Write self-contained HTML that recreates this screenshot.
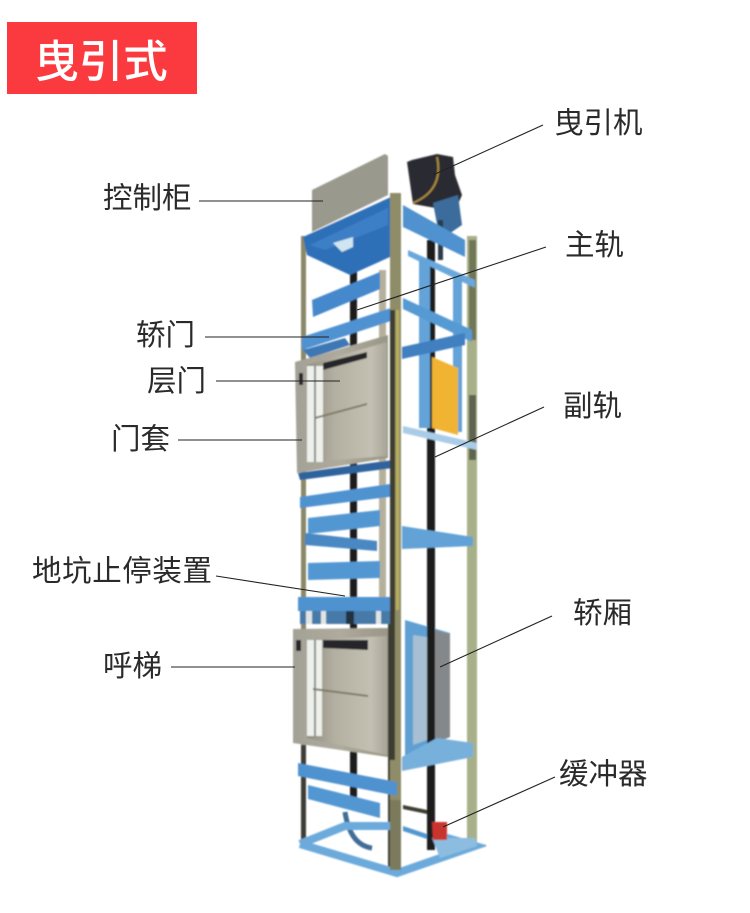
<!DOCTYPE html>
<html lang="zh"><head><meta charset="utf-8"><title>曳引式</title>
<style>
html,body{margin:0;padding:0;background:#fff}
body{width:750px;height:913px;overflow:hidden}
svg{display:block}
.l{font-family:"Liberation Sans","Noto Sans CJK SC",sans-serif;font-size:29.5px;fill:#2a2a2a}
.p{stroke:#222;stroke-width:1.1;fill:none}
</style></head><body>
<svg width="750" height="913" viewBox="0 0 750 913" xmlns="http://www.w3.org/2000/svg">
<defs><filter id="b" x="-5%" y="-5%" width="110%" height="110%"><feGaussianBlur stdDeviation="0.8"/></filter>
<linearGradient id="d1" x1="0" x2="1" y1="0" y2="0"><stop offset="0" stop-color="#a3a196"/><stop offset=".5" stop-color="#aeaa9c"/><stop offset="1" stop-color="#9a9686"/></linearGradient>
<linearGradient id="d2" x1="0" x2="1" y1="0" y2="0"><stop offset="0" stop-color="#8f8c7e"/><stop offset=".35" stop-color="#b3b0a2"/><stop offset=".8" stop-color="#c3c0b2"/><stop offset="1" stop-color="#a8a596"/></linearGradient></defs>
<rect x="7" y="22" width="190" height="72" fill="#fb3a3f"/>
<text x="101" y="77" text-anchor="middle" font-family="'Liberation Sans','Noto Sans CJK SC',sans-serif" font-size="44.5" font-weight="500" fill="#fff">曳引式</text>

<g filter="url(#b)">
<!-- back post and rails -->
<rect x="467" y="236" width="10" height="612" fill="#a7b088"/>
<rect x="469" y="240" width="7" height="100" fill="#6f7657"/>
<rect x="469" y="395" width="7" height="65" fill="#5e6450"/>
<rect x="427" y="240" width="8" height="610" fill="#1a1c1f"/>
<rect x="350" y="260" width="7" height="540" fill="#1a1c1f"/>
<rect x="301" y="236" width="5" height="610" fill="#8a8868"/>
<rect x="301" y="745" width="5" height="100" fill="#3c3c34"/>
<rect x="379" y="270" width="7" height="340" fill="#b5b09c"/>
<rect x="388" y="600" width="6" height="270" fill="#3e3c30"/>

<!-- machine -->
<polygon points="407,162 412,160 437,154 453,157 455,175 462,195 458,204 447,210 413,204" fill="#2a2c30"/>
<path d="M437,157 Q444,190 413,203" stroke="#a88c3a" stroke-width="2" fill="none"/>
<polygon points="433,203 458,195 462,225 440,240" fill="#3a6c9c"/>
<rect x="438" y="220" width="5" height="40" fill="#2c3a48"/>

<!-- cabinet -->
<polygon points="312,190 385,154 388,156 388,195 312,232" fill="#9a998e"/>

<!-- top frame -->
<polygon points="403,205 465,240 465,257 403,227" fill="#4f92cf"/>
<polygon points="303,237 391,197 392,230 390,257 350,275 307,255" fill="#2f6fb8"/>
<polygon points="310,245 388,208 388,225 325,250" fill="#3c7fc6"/>
<polygon points="333,243 353,237 353,247 342,252" fill="#cfe6f0"/>
<polygon points="408,250 475,280 475,288 408,256" fill="#6aa8db"/>
<rect x="419" y="260" width="11" height="168" fill="#63a3d8"/>
<rect x="453" y="277" width="9" height="155" fill="#63a3d8"/>
<polygon points="403,298 472,330 472,342 403,309" fill="#559ad3"/>
<polygon points="402,347 465,333 465,345 402,359" fill="#3f7fc0"/>
<polygon points="432,357 458,368 458,435 432,428" fill="#f0b432"/>
<polygon points="403,426 477,443 477,450 403,433" fill="#a9cce8"/>

<!-- front bands upper -->
<polygon points="312,300 380,272 380,289 313,317" fill="#4488cc"/>
<polygon points="302,337 397,306 397,319 302,350" fill="#4f92d2"/>
<polygon points="303,350 345,338 350,345 310,358" fill="#3e78b4"/>

<!-- door 1 -->
<polygon points="295,362 388,335 388,458 297,473" fill="url(#d1)"/>
<polygon points="307,365 387,342 387,456 307,462" fill="url(#d2)"/>
<rect x="307" y="366" width="16" height="96" fill="#eef0ec"/>
<rect x="314" y="366" width="2" height="96" fill="#8b8b86"/>
<polygon points="323,363 367,352 367,358 323,370" fill="#27262a"/>
<polygon points="315,417 367,403 367,405 315,419" fill="#7e7a68"/>
<rect x="299" y="373" width="4" height="12" fill="#26262a"/>
<polygon points="298,473 393,460 393,468 300,480" fill="#2f649e"/>

<!-- mid bands -->
<polygon points="300,497 397,483 397,496 300,508" fill="#4f92d0"/>
<polygon points="308,518 380,510 380,526 308,534" fill="#5397d2"/>
<polygon points="305,533 377,541 377,551 305,545" fill="#4a88c2"/>
<polygon points="402,526 473,537 473,546 402,549" fill="#62a2d6"/>
<polygon points="308,563 380,561 380,578 308,580" fill="#5397d2"/>
<rect x="298" y="597" width="99" height="14" fill="#4f92d0"/>
<rect x="300" y="611" width="95" height="13" fill="#477aa8"/>
<rect x="306" y="611" width="6" height="13" fill="#dfe5e5"/><rect x="321" y="611" width="5" height="13" fill="#dfe5e5"/><rect x="346" y="611" width="8" height="13" fill="#243040"/><rect x="376" y="611" width="5" height="13" fill="#dfe5e5"/>

<!-- cabin -->
<polygon points="405,620 450,633 450,737 405,757" fill="#5f9fd2"/>
<polygon points="413,635 427,637 427,740 413,745" fill="#a6bfd2"/>
<polygon points="435,630 450,634 450,737 435,742" fill="#85888a"/>
<rect x="427" y="620" width="8" height="230" fill="#1a1c1f"/>

<!-- door 2 -->
<polygon points="293,629 388,628 388,757 293,743" fill="url(#d1)"/>
<polygon points="307,640 387,636 387,755 307,738" fill="url(#d2)"/>
<rect x="307" y="640" width="15" height="96" fill="#eef0ec"/>
<rect x="314" y="640" width="2" height="96" fill="#8b8b86"/>
<polygon points="323,640 368,640 368,650 323,648" fill="#27262a"/>
<polygon points="313,688 368,695 368,697 313,690" fill="#7e7a68"/>
<rect x="296" y="640" width="5" height="11" fill="#26262a"/>

<!-- front post -->
<rect x="390" y="193" width="11" height="678" fill="#8f8c68"/>
<rect x="390" y="310" width="5" height="450" fill="#3e3c30"/>
<rect x="396" y="310" width="3" height="300" fill="#b9ad5c"/>

<!-- lower bands -->
<polygon points="402,757 437,738 473,743 473,757 402,771" fill="#78b0dc"/>
<polygon points="298,763 397,782 397,796 298,776" fill="#4f92d0"/>
<polygon points="308,785 380,803 380,818 308,799" fill="#5397d2"/>
<polygon points="403,805 427,810 427,814 403,809" fill="#3e3c30"/>
<polygon points="403,826 427,834 427,839 403,831" fill="#5397d2"/>
<path d="M345,812 Q350,845 372,848" stroke="#3f6d96" stroke-width="5" fill="none"/>

<!-- base -->
<path d="M300,844 L345,826 L395,826 M300,844 L397,873 L475,846 L440,836" stroke="#6caadb" stroke-width="8" fill="none"/>
<rect x="390" y="800" width="11" height="70" fill="#7c7a5c"/>
<polygon points="432,838 475,838 477,846 440,858" fill="#8cbde0"/>
<polygon points="432,822 447,822 447,840 433,840" fill="#c9352e"/>
</g>

<!-- leader lines -->
<line class="p" x1="543" y1="125" x2="433" y2="175"/>
<line class="p" x1="546" y1="247" x2="357" y2="310"/>
<line class="p" x1="199" y1="201" x2="323" y2="201"/>
<line class="p" x1="205" y1="337" x2="329" y2="337"/>
<line class="p" x1="216" y1="381" x2="340" y2="381"/>
<line class="p" x1="178" y1="440" x2="302" y2="440"/>
<line class="p" x1="544" y1="407" x2="435" y2="457"/>
<line class="p" x1="216" y1="576" x2="345" y2="596"/>
<line class="p" x1="171" y1="667" x2="295" y2="667"/>
<line class="p" x1="552" y1="616" x2="440" y2="667"/>
<line class="p" x1="555" y1="777" x2="443" y2="827"/>

<!-- labels -->
<text class="l" x="554" y="133">曳引机</text>
<text class="l" x="565" y="255">主轨</text>
<text class="l" x="103" y="208">控制柜</text>
<text class="l" x="136" y="345">轿门</text>
<text class="l" x="147" y="391">层门</text>
<text class="l" x="111" y="449">门套</text>
<text class="l" x="563" y="416">副轨</text>
<text class="l" x="32" y="581" textLength="180">地坑止停装置</text>
<text class="l" x="103" y="676">呼梯</text>
<text class="l" x="573" y="623">轿厢</text>
<text class="l" x="559" y="784">缓冲器</text>
</svg>
</body></html>
